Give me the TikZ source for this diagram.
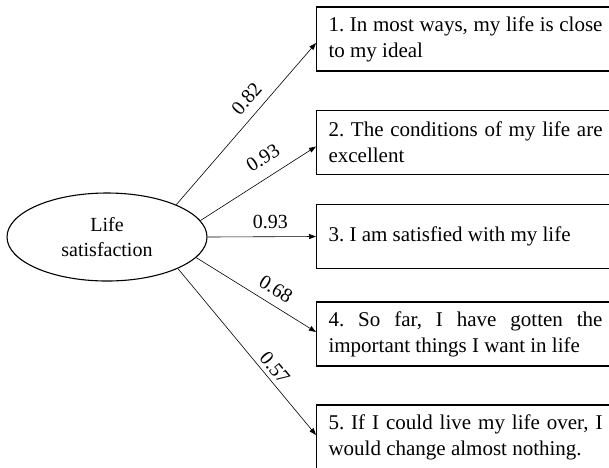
\documentclass[tikz,border=0pt]{standalone}
\usepackage{fontspec}
\setmainfont{Liberation Serif}
\usetikzlibrary{arrows.meta,shapes.geometric}
\hyphenpenalty=10000
\exhyphenpenalty=10000
\tolerance=10000
\frenchspacing
\tikzset{
  itembox/.style={draw, line width=1.1pt, rectangle, anchor=west, text width=274pt,
    inner xsep=12pt, inner ysep=0pt, minimum height=64pt, align=justify,
    font=\fontsize{21}{26}\selectfont},
  latent/.style={draw, line width=1.1pt, ellipse, minimum width=200pt, minimum height=88pt,
    inner sep=0pt, align=center, font=\fontsize{20}{25}\selectfont},
  path/.style={line width=0.6pt, -{Triangle[length=7pt,width=5pt]}},
  coef/.style={sloped, inner sep=0pt, font=\fontsize{20}{20}\selectfont}
}
\begin{document}
\begin{tikzpicture}[x=1pt,y=-1pt]
\useasboundingbox (0,0) rectangle (609,467);
\clip (0,0) rectangle (609,467);
\node[latent] (ls) at (107,237) {Life\\satisfaction};
\node[itembox] (b1) at (316,39) {1. In most ways, my life is close to my ideal};
\node[itembox] (b2) at (316,142.5) {2. The conditions of my life are excellent};
\node[itembox] (b3) at (316,236.5) {3. I am satisfied with my life};
\node[itembox] (b4) at (316,334) {4. So far, I have gotten the important things I want in life};
\node[itembox] (b5) at (316,437) {5. If I could live my life over, I would change almost nothing.};
\draw[path] (ls.25) -- ([yshift=-4pt]b1.west) node[coef, pos=0.59, above=9pt] {0.82};
\draw[path] (ls.10) -- ([yshift=-4pt]b2.west) node[coef, pos=0.63, above=12pt] {0.93};
\draw[path] (ls.east) -- (b3.west) node[coef, pos=0.58, above=8pt] {0.93};
\draw[path] (ls.-13.6) -- ([yshift=2pt]b4.west) node[coef, pos=0.60, above=8pt] {0.68};
\draw[path] (ls.-24) -- ([yshift=2pt]b5.west) node[coef, pos=0.64, above=4pt] {0.57};
\end{tikzpicture}
\end{document}
